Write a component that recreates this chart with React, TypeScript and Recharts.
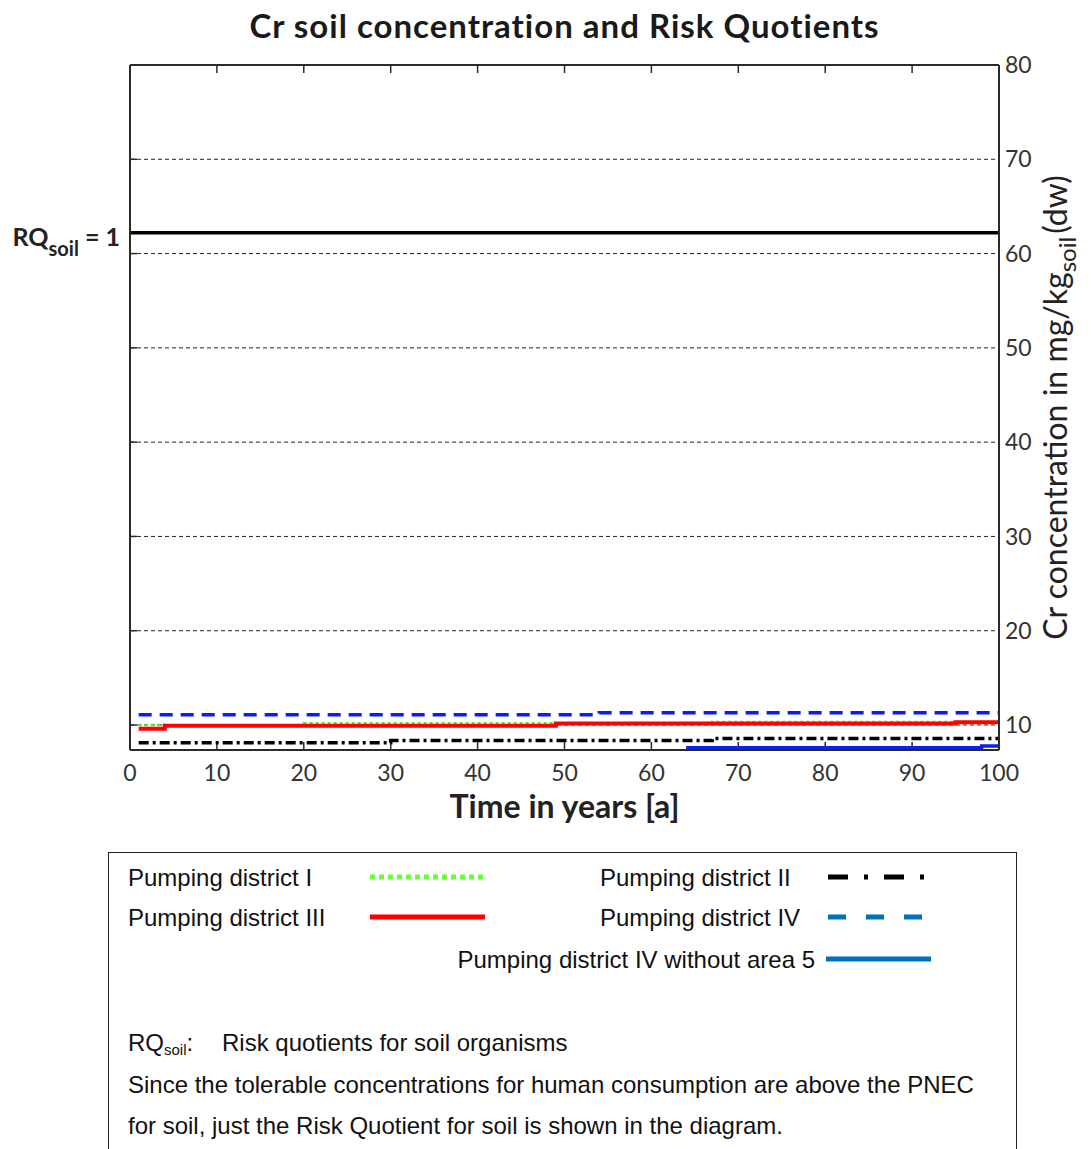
import React from "react";
import { LineChart, Line, XAxis, YAxis, CartesianGrid, ReferenceLine } from "recharts";

// step curves: year where the level changes -> Cr concentration (mg/kg soil, dw)
const timeI = [1, 4, 20, 67, 100];
const concI = [10.0, 9.93, 10.18, 10.33, 10.33];
const timeII = [1, 30, 67, 100];
const concII = [8.12, 8.35, 8.57, 8.57];
const timeIII = [1, 4, 49, 95, 100];
const concIII = [9.6, 9.93, 10.17, 10.28, 10.28];
const timeIV = [1, 54, 100];
const concIV = [11.08, 11.3, 11.3];
const timeIVw5 = [64, 98, 100];
const concIVw5 = [7.6, 7.77, 7.77];

// concentration at which RQ_soil = 1
const rqSoilLimit = 62.2;

const xTicks = [0, 10, 20, 30, 40, 50, 60, 70, 80, 90, 100];
const yTicks = [10, 20, 30, 40, 50, 60, 70, 80];
const xDomain: [number, number] = [0, 100];
const yDomain: [number, number] = [7.35, 80];

const toPoints = (t: number[], c: number[]) => t.map((v, i) => ({ t: v, c: c[i] }));

const series = [
  { key: "I", name: "Pumping district I", data: toPoints(timeI, concI), color: "#5fe82a", legendColor: "#66ff33", width: 2.5, dash: "3 3", legendDash: "5 4" },
  { key: "III", name: "Pumping district III", data: toPoints(timeIII, concIII), color: "#ff0000", legendColor: "#ff0000", width: 4, dash: undefined, legendDash: undefined },
  { key: "II", name: "Pumping district II", data: toPoints(timeII, concII), color: "#000000", legendColor: "#000000", width: 3.5, dash: "10 4 3 4", legendDash: "20 16 4 16" },
  { key: "IV", name: "Pumping district IV", data: toPoints(timeIV, concIV), color: "#0b1cf0", legendColor: "#0070c0", width: 3.5, dash: "13 8", legendDash: "18 20" },
  { key: "IVw5", name: "Pumping district IV without area 5", data: toPoints(timeIVw5, concIVw5), color: "#0a1ef5", legendColor: "#0070c0", width: 3.5, dash: undefined, legendDash: undefined },
];

// where each legend entry sits inside the box
const legendSpots: Record<string, { x: number; y: number; anchor: "start" | "end"; x1: number; x2: number }> = {
  I: { x: 128, y: 878, anchor: "start", x1: 370, x2: 483 },
  II: { x: 600, y: 878, anchor: "start", x1: 828, x2: 930 },
  III: { x: 128, y: 918, anchor: "start", x1: 370, x2: 485 },
  IV: { x: 600, y: 918, anchor: "start", x1: 828, x2: 925 },
  IVw5: { x: 815, y: 960, anchor: "end", x1: 826, x2: 931 },
};

const axisColor = "#2a2a2a";
const calibriLike = "Lato, 'Open Sans', sans-serif";
// inward tick length, in axis units (~8px)
const xTickLen = 0.85;
const yTickLen = 0.8;

const RqLabel = (props: any) => {
  const vb = props.viewBox || {};
  return (
    <text x={vb.x - 10} y={vb.y + 13} textAnchor="end" fontFamily={calibriLike} fontWeight={700} fontSize={25} fill="#222">
      RQ
      <tspan fontSize={20} dy={10}>soil</tspan>
      <tspan dy={-10} dx={6}>= 1</tspan>
    </text>
  );
};

const XLabel = (props: any) => {
  const vb = props.viewBox || {};
  return (
    <text x={vb.x + vb.width / 2} y={vb.y + 68} textAnchor="middle" fontFamily={calibriLike} fontWeight={700} fontSize={32} fill="#222">
      Time in years [a]
    </text>
  );
};

const YLabel = (props: any) => {
  const vb = props.viewBox || {};
  const cx = vb.x + 68;
  const cy = vb.y + vb.height / 2;
  return (
    <text x={cx} y={cy} transform={`rotate(-90 ${cx} ${cy})`} textAnchor="middle" fontFamily={calibriLike} fontSize={32} fill="#222">
      Cr concentration in mg/kg
      <tspan fontSize={24} dy={9}>soil</tspan>
      <tspan dy={-9} dx={3}>(dw)</tspan>
    </text>
  );
};

export default function App() {
  return (
    <div style={{ position: "absolute", left: 0, top: 0, width: 1091, height: 1149, background: "#fff", overflow: "hidden" }}>
      <div
        style={{
          position: "absolute",
          left: 130,
          width: 869,
          top: 5,
          textAlign: "center",
          fontFamily: calibriLike,
          fontWeight: 700,
          fontSize: 33,
          letterSpacing: 1,
          lineHeight: "40px",
          color: "#1a1a1a",
        }}
      >
        Cr soil concentration and Risk Quotients
      </div>

      <div style={{ position: "absolute", left: 0, top: 0 }}>
        <LineChart width={1091} height={850} margin={{ top: 64, right: 32, bottom: 60, left: 129 }}>
          <CartesianGrid xAxisId="x" yAxisId="r" vertical={false} stroke="#222" strokeDasharray="4 3" />
          <XAxis
            xAxisId="x"
            dataKey="t"
            type="number"
            domain={xDomain}
            ticks={xTicks}
            allowDataOverflow
            interval={0}
            height={40}
            tickLine={false}
            tickSize={0}
            tickMargin={15}
            axisLine={{ stroke: axisColor, strokeWidth: 2 }}
            tick={{ fill: "#333", fontSize: 23, fontFamily: calibriLike }}
            label={XLabel}
          />
          <XAxis
            xAxisId="xt"
            orientation="top"
            type="number"
            domain={xDomain}
            allowDataOverflow
            height={1}
            tick={false}
            tickLine={false}
            axisLine={{ stroke: axisColor, strokeWidth: 2 }}
          />
          <YAxis
            yAxisId="r"
            orientation="right"
            type="number"
            domain={yDomain}
            ticks={yTicks}
            allowDataOverflow
            interval={0}
            width={60}
            tickLine={false}
            tickSize={0}
            tickMargin={6}
            axisLine={{ stroke: axisColor, strokeWidth: 2 }}
            tick={{ fill: "#333", fontSize: 23, fontFamily: calibriLike, textAnchor: "start" }}
            label={YLabel}
          />
          <YAxis
            yAxisId="l"
            orientation="left"
            type="number"
            domain={yDomain}
            allowDataOverflow
            width={1}
            tick={false}
            tickLine={false}
            axisLine={{ stroke: axisColor, strokeWidth: 2 }}
          />
          {xTicks.map((t) => (
            <ReferenceLine
              key={`bt${t}`}
              xAxisId="x"
              yAxisId="r"
              segment={[{ x: t, y: yDomain[0] }, { x: t, y: yDomain[0] + xTickLen }]}
              stroke={axisColor}
              strokeWidth={1.5}
            />
          ))}
          {xTicks.map((t) => (
            <ReferenceLine
              key={`tt${t}`}
              xAxisId="x"
              yAxisId="r"
              segment={[{ x: t, y: yDomain[1] }, { x: t, y: yDomain[1] - xTickLen }]}
              stroke={axisColor}
              strokeWidth={1.5}
            />
          ))}
          {yTicks.map((v) => (
            <ReferenceLine
              key={`lt${v}`}
              xAxisId="x"
              yAxisId="r"
              segment={[{ x: xDomain[0], y: v }, { x: xDomain[0] + yTickLen, y: v }]}
              stroke={axisColor}
              strokeWidth={1.5}
            />
          ))}
          <ReferenceLine xAxisId="x" yAxisId="r" y={rqSoilLimit} stroke="#000" strokeWidth={3.5} label={RqLabel} />
          {series.map((s) => (
            <Line
              key={s.key}
              xAxisId="x"
              yAxisId="r"
              data={s.data}
              dataKey="c"
              name={s.name}
              type="stepAfter"
              stroke={s.color}
              strokeWidth={s.width}
              strokeDasharray={s.dash}
              dot={false}
              activeDot={false}
              isAnimationActive={false}
            />
          ))}
        </LineChart>
      </div>

      <svg style={{ position: "absolute", left: 0, top: 0 }} width={1091} height={1149}>
        <rect x={108.5} y={852.5} width={908} height={320} fill="none" stroke="#222" strokeWidth={1} />
        <g fontFamily="'Liberation Sans', Arial, sans-serif" fontSize={24} fill="#111">
          {series.map((s) => {
            const p = legendSpots[s.key];
            return (
              <g key={s.key}>
                <text x={p.x} y={p.y + 8} textAnchor={p.anchor}>{s.name}</text>
                <line x1={p.x1} x2={p.x2} y1={p.y - 1} y2={p.y - 1} stroke={s.legendColor} strokeWidth={5} strokeDasharray={s.legendDash} />
              </g>
            );
          })}
          <text x={128} y={1051}>
            RQ<tspan fontSize={15} dy={4}>soil</tspan>
            <tspan dy={-4}>:</tspan>
          </text>
          <text x={222} y={1051}>Risk quotients for soil organisms</text>
          <text x={128} y={1093}>Since the tolerable concentrations for human consumption are above the PNEC</text>
          <text x={128} y={1134}>for soil, just the Risk Quotient for soil is shown in the diagram.</text>
        </g>
      </svg>
    </div>
  );
}
